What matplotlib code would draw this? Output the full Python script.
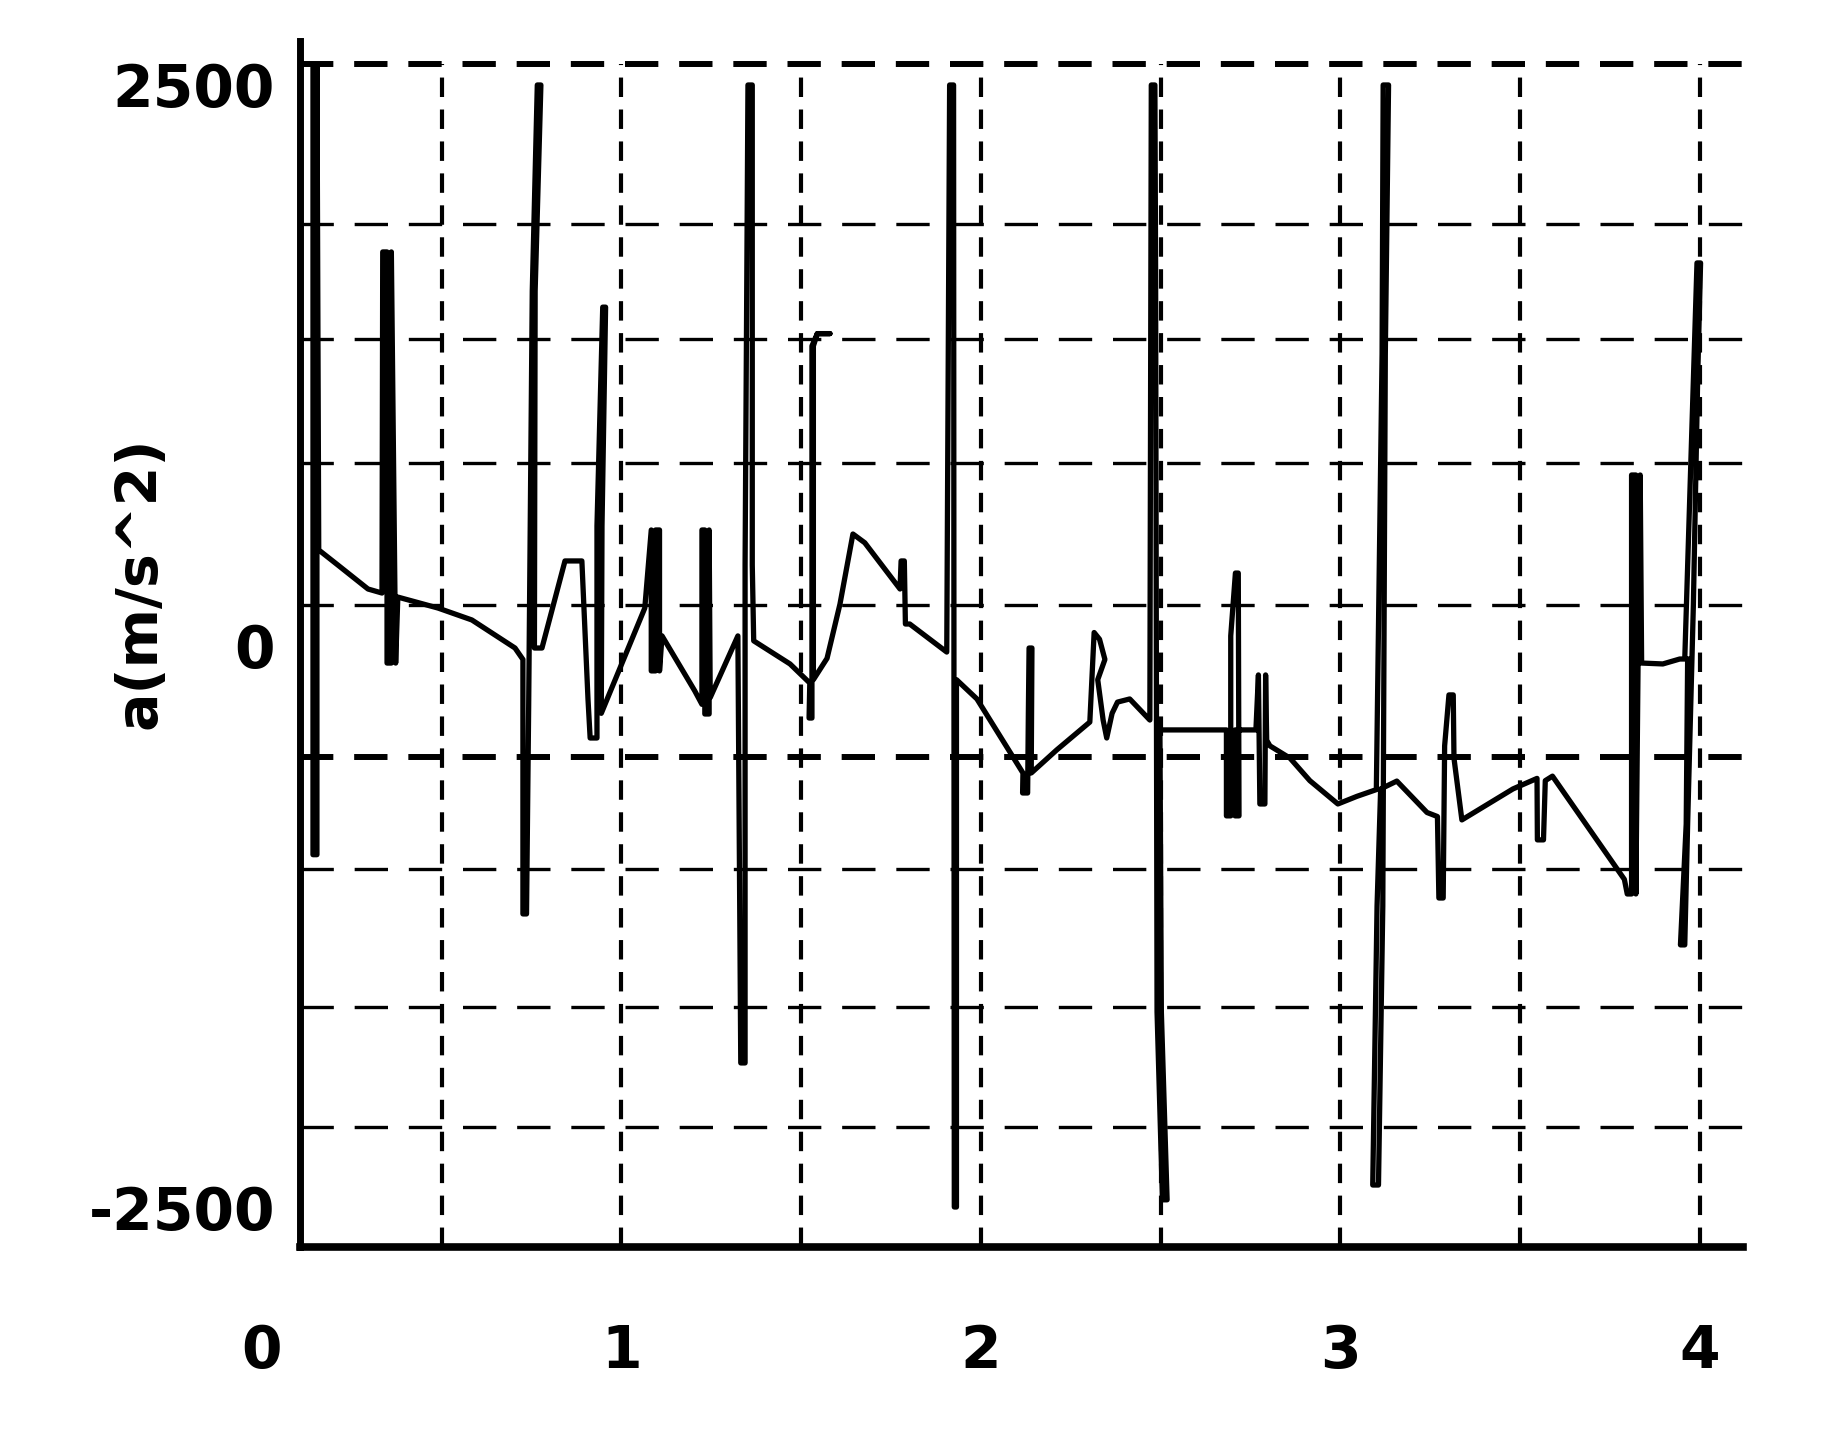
import matplotlib.pyplot as plt
import numpy as np

# acceleration trace (time in s, a in m/s^2)
t = [0.142, 0.142, 0.153, 0.153, 0.158, 0.211, 0.295, 0.334,
     0.336, 0.348, 0.348, 0.36, 0.36, 0.372, 0.378,
     0.49, 0.584, 0.704,
     0.726, 0.726, 0.736, 0.742, 0.752, 0.766, 0.776, 0.76, 0.758, 0.779,
     0.843, 0.89, 0.907,
     0.913, 0.932, 0.932, 0.948, 0.956, 0.946, 0.944, 1.065,
     1.083, 1.083, 1.095, 1.095, 1.106, 1.106, 1.113, 1.204,
     1.224, 1.224, 1.232, 1.232, 1.244, 1.244, 1.247, 1.324,
     1.332, 1.344, 1.344, 1.352, 1.364, 1.364, 1.368, 1.469,
     1.524, 1.522, 1.530, 1.530, 1.545, 1.58, 1.545, 1.534, 1.534,
     1.572, 1.608, 1.644, 1.677, 1.775,
     1.778, 1.787, 1.79, 1.802, 1.905,
     1.913, 1.924, 1.926, 1.932, 1.932, 1.989, 2.117,
     2.116, 2.13, 2.132, 2.134, 2.142, 2.14, 2.211, 2.303,
     2.315, 2.33, 2.345, 2.325, 2.34, 2.35, 2.365, 2.38, 2.414,
     2.47, 2.474, 2.484, 2.486, 2.49, 2.505, 2.518, 2.502, 2.498, 2.683,
     2.683, 2.695, 2.695, 2.708, 2.716, 2.718, 2.707, 2.707, 2.73, 2.765,
     2.772, 2.776, 2.79, 2.792, 2.795, 2.804, 2.86, 2.915, 2.993, 3.046,
     3.10, 3.116, 3.119, 3.134, 3.125, 3.118, 3.106, 3.09, 3.102, 3.112,
     3.157, 3.241, 3.27, 3.274, 3.286, 3.29, 3.302, 3.314, 3.316, 3.338,
     3.48, 3.547, 3.548, 3.565, 3.57, 3.59, 3.79,
     3.798, 3.81, 3.81, 3.822, 3.822, 3.828, 3.834, 3.838, 3.897, 3.944,
     3.958, 3.982, 3.992, 4.002, 3.994, 3.982, 3.966, 3.958, 3.946, 3.962,
     3.966]
acc = [2590, -930, -930, 2590, 428, 361, 254, 236,
       1756, 1756, -76, -76, 1756, -76, 218,
       169, 116, -9,
       -60, -1194, -1194, -267, 1582, 2500, 2500, 1582, -9, -9,
       379, 379, -236,
       -410, -410, 535, 1510, 1510, 535, -300, 169,
       517, -111, -111, 517, 517, -111, 45, -200,
       -260, 517, 517, -303, -303, 517, -230, 45,
       -1858, -1858, 361, 2500, 2500, 361, 23, -80,
       -165, -321, -321, 1337, 1392, 1392, 1392, 1337, -150,
       -55, 187, 499, 460, 254,
       379, 379, 98, 98, -27,
       2500, 2500, -2500, -2500, -150, -236, -566,
       -655, -655, -303, -9, -9, -566, -463, -339,
       60, 30, -60, -150, -330, -410, -300, -250, -236,
       -330, 2500, 2500, 1653, -1631, -2468, -2468, -1631, -374, -374,
       -757, -757, 45, 325, 325, -757, -757, -374, -374, -374,
       -129, -704, -704, -129, -420, -445, -500, -600, -704, -670,
       -640, 1301, 2500, 2500, 1301, -1159, -2402, -2402, -1159, -637,
       -602, -742, -760, -1123, -1123, -445, -218, -218, -500, -775,
       -637, -590, -864, -864, -600, -580, -1040,
       -1105, -1105, 762, 762, -1105, -94, 762, -76, -80, -58,
       -58, 1199, 1707, 1707, 1199, 187, -793, -1332, -1332, -793,
       -58]

xticks = [0, 1, 2, 3, 4]
yticks = [2500, 0, -2500]
ytick_labels = ['2500', '0', '-2500']

# grid positions as they sit on the scan
grid_x = [0.5, 1.0, 1.5, 2.0, 2.5, 3.0, 3.5, 4.0]
grid_y = [2593, 1880, 1368, 815, 183, -495, -994, -1609, -2143]
grid_y_lw = [4.3, 2.4, 2.4, 2.4, 2.4, 4.3, 2.4, 2.4, 2.4]

plt.rcParams['lines.scale_dashes'] = False
plt.rcParams['font.family'] = 'DejaVu Sans'
plt.rcParams['font.weight'] = 'bold'

x0, x1 = 0.0, 4.12
y0, y1 = -2678, 2696
yaxis_at = 0.1057

fig = plt.figure(figsize=(18.33, 14.54), dpi=100)
ax = fig.add_axes([0.1429, 0.1424, 0.808, 0.8294])

for gx in grid_x:
    ax.vlines(gx, y0, grid_y[0], colors='black', lw=3.0,
              linestyles=(0, (14, 9)), zorder=1)
for gy, lw in zip(grid_y, grid_y_lw):
    ax.hlines(gy, yaxis_at, x1, colors='black', lw=lw,
              linestyles=(0, (24, 15)), zorder=1)

ax.plot(t, acc, color='black', lw=3.8, solid_joinstyle='round', zorder=3)

ax.set_xlim(x0, x1)
ax.set_ylim(y0, y1)

ax.spines['top'].set_visible(False)
ax.spines['right'].set_visible(False)
ax.spines['left'].set_position(('data', yaxis_at))
ax.spines['left'].set_linewidth(5)
ax.spines['bottom'].set_linewidth(5.5)
ax.spines['bottom'].set_bounds(yaxis_at, x1)

ax.set_xticks(xticks)
ax.set_xticklabels([str(v) for v in xticks])
ax.set_yticks(yticks)
ax.set_yticklabels(ytick_labels)
ax.tick_params(axis='x', length=0, pad=55, labelsize=42)
ax.tick_params(axis='y', length=0, pad=18, labelsize=42)

ax.set_ylabel('a(m/s^2)', fontsize=41, fontweight='bold')
ax.yaxis.set_label_coords(-0.064, 0.551)

fig.savefig('out.png', dpi=100, facecolor='white')
